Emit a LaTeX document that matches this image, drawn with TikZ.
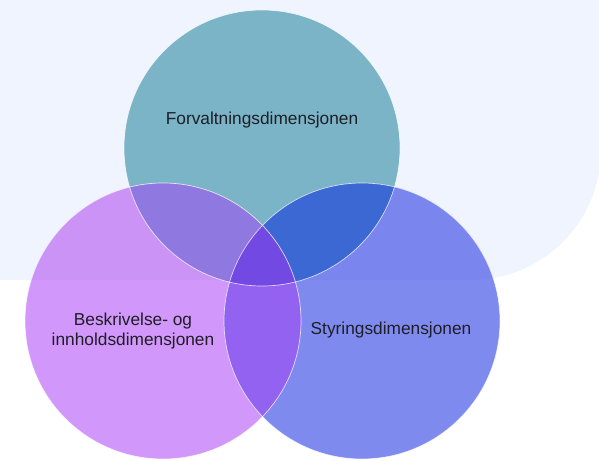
\documentclass[tikz,border=0pt]{standalone}
\usepackage{fontspec}
\setmainfont{Liberation Sans}
\definecolor{bgc}{HTML}{EFF4FE}
\definecolor{Tc}{HTML}{7AB4C6}
\definecolor{Lw}{HTML}{D197FA}
\definecolor{Ll}{HTML}{CC93F7}
\definecolor{Rw}{HTML}{7F8AEF}
\definecolor{Rl}{HTML}{7A86EE}
\definecolor{TLc}{HTML}{8F78E0}
\definecolor{TRc}{HTML}{3B68D3}
\definecolor{LRw}{HTML}{9462F0}
\definecolor{LRl}{HTML}{8F5FEE}
\definecolor{TLRc}{HTML}{7349E3}
\definecolor{txt}{HTML}{1E1E26}
\begin{document}
\begin{tikzpicture}[x=1pt,y=-1pt,
  lbl/.style={text=txt,font=\fontsize{17.3}{19.5}\selectfont,align=center,inner sep=0pt},
  rim/.style={draw=white,line width=0.7pt,draw opacity=0.75}]
\useasboundingbox (0,0) rectangle (599,460);
\def\Tp{(262,148) circle[radius=138]}
\def\Lp{(163,321) circle[radius=138]}
\def\Rp{(362,321) circle[radius=138]}
\def\bgp{(0,0) -- (601,0) -- (601,150) arc[start angle=0,end angle=90,radius=130] -- (0,280) -- cycle}
% background
\fill[bgc] \bgp;
% single circles
\fill[Tc] \Tp;
\fill[Lw] \Lp;
\begin{scope}\clip \bgp; \fill[Ll] \Lp; \end{scope}
\fill[Rw] \Rp;
\begin{scope}\clip \bgp; \fill[Rl] \Rp; \end{scope}
% pair overlaps
\begin{scope}\clip \Tp; \fill[TLc] \Lp; \end{scope}
\begin{scope}\clip \Tp; \fill[TRc] \Rp; \end{scope}
\begin{scope}\clip \Lp; \fill[LRw] \Rp; \end{scope}
\begin{scope}\clip \Lp; \clip \bgp; \fill[LRl] \Rp; \end{scope}
% triple
\begin{scope}\clip \Tp; \clip \Lp; \fill[TLRc] \Rp; \end{scope}
% rims
\draw[rim] \Tp;
\draw[rim] \Lp;
\draw[rim] \Rp;
% labels
\node[lbl] (forv) at (262,120) {Forvaltningsdimensjonen};
\node[lbl] (besk) at (133,331) {Beskrivelse- og\\innholdsdimensjonen};
\node[lbl] (styr) at (391,330) {Styringsdimensjonen};
\end{tikzpicture}
\end{document}
